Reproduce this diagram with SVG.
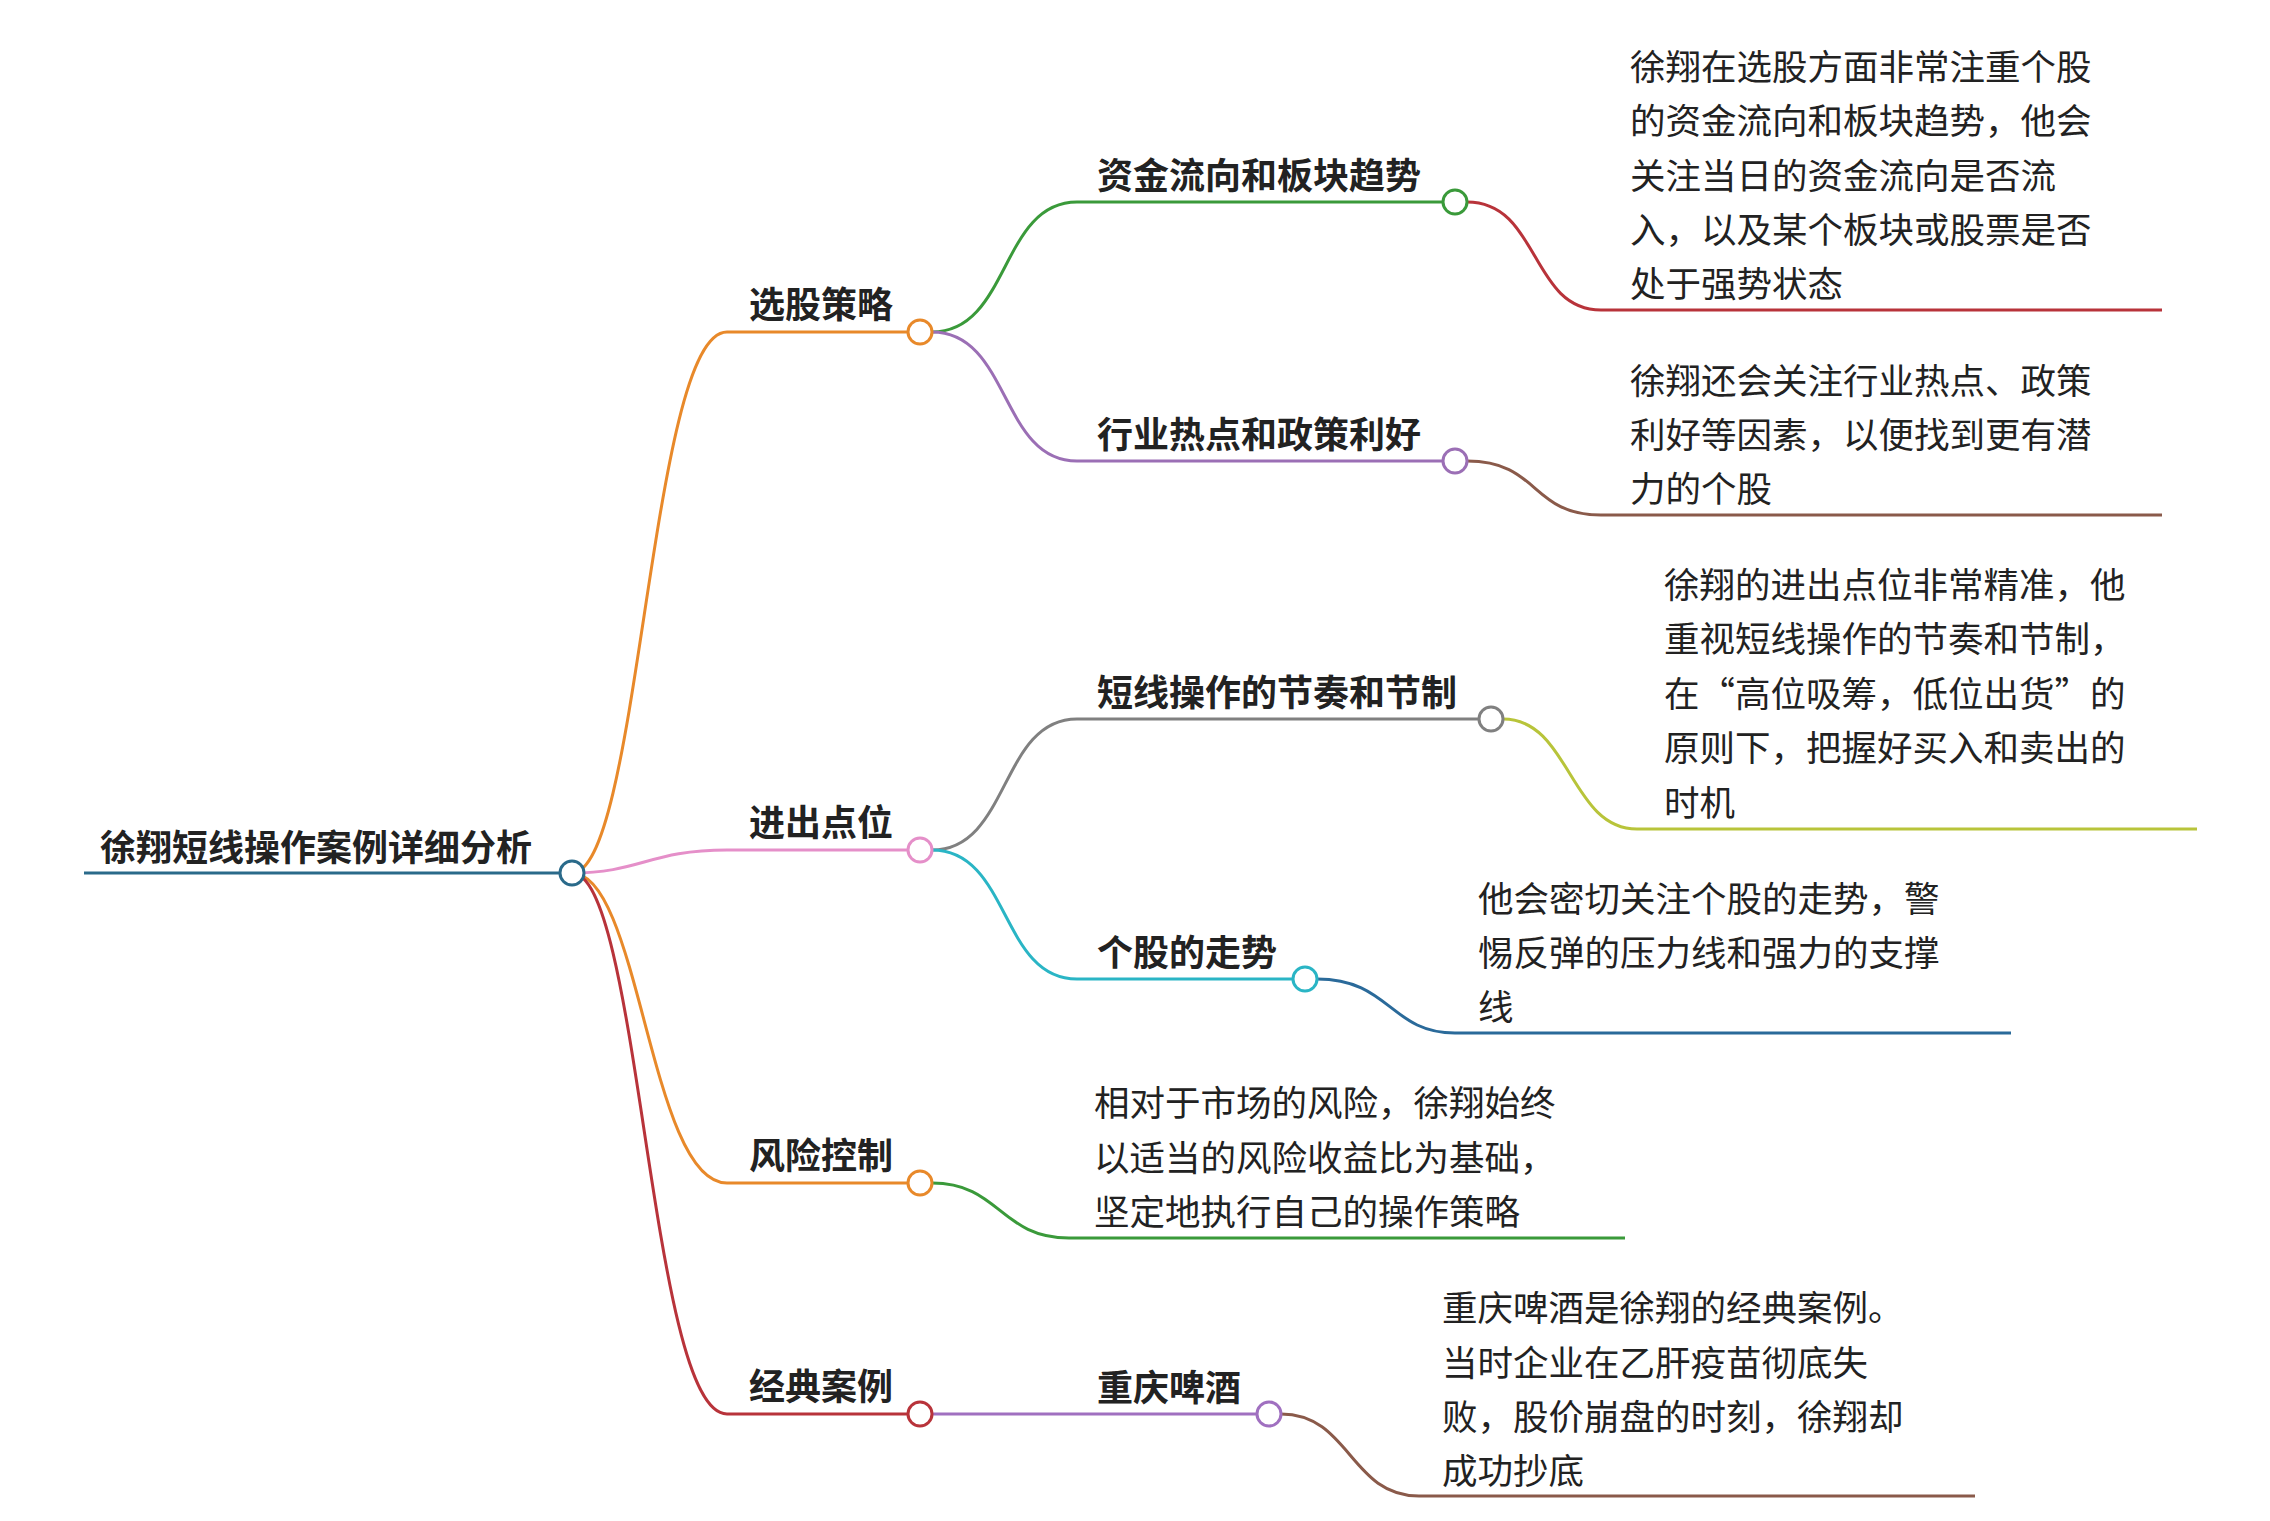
<svg xmlns="http://www.w3.org/2000/svg" width="2270" height="1521" viewBox="0 0 2270 1521">
<style>
text{font-family:"Noto Sans CJK SC","Liberation Sans",sans-serif;fill:#222}
.b{font-weight:bold;font-size:36px}
.r{font-size:35.5px}
path{fill:none;stroke-width:3}
circle{fill:#fff;stroke-width:3}
</style>
<rect width="2270" height="1521" fill="#fff"/>
<g id="connectors">
<path d="M84,873 H560" stroke="#2a6a8a" stroke-width="4"/>
<path d="M572,873 C640,873 650,332 727,332 H908" stroke="#e8892a"/>
<path d="M572,873 C640,873 650,850 727,850 H908" stroke="#e58fc9"/>
<path d="M572,873 C640,873 650,1183 727,1183 H908" stroke="#e8892a"/>
<path d="M572,873 C640,873 650,1414 727,1414 H908" stroke="#b8333a"/>
<path d="M932,332 C1010,332 1000,202 1077,202 H1443" stroke="#3a9a3a"/>
<path d="M932,332 C1010,332 1000,461 1077,461 H1443" stroke="#9b6fb5"/>
<path d="M932,850 C1010,850 1000,719 1077,719 H1479" stroke="#808080"/>
<path d="M932,850 C1010,850 1000,979 1077,979 H1293" stroke="#2ab5c5"/>
<path d="M932,1414 H1257" stroke="#a070c0"/>
<path d="M1467,202 C1540,202 1530,310 1601,310 H2162" stroke="#b8333a"/>
<path d="M1467,461 C1540,461 1530,515 1601,515 H2162" stroke="#8a5a4a"/>
<path d="M1503,719 C1570,719 1570,829 1637,829 H2197" stroke="#b8c43a"/>
<path d="M1317,979 C1390,979 1390,1033 1455,1033 H2011" stroke="#2a6a9a"/>
<path d="M932,1183 C1000,1183 1000,1238 1069,1238 H1625" stroke="#3a9a3a"/>
<path d="M1281,1414 C1350,1414 1350,1496 1419,1496 H1975" stroke="#8a5a4a"/>
</g>
<g id="root"><text class="b" x="100" y="861">徐翔短线操作案例详细分析</text><circle cx="572" cy="873" r="12" stroke="#2a6a8a"/></g>
<g id="n1"><text class="b" x="749" y="318">选股策略</text><circle cx="920" cy="332" r="12" stroke="#e8892a"/></g>
<g id="n2"><text class="b" x="749" y="836">进出点位</text><circle cx="920" cy="850" r="12" stroke="#e58fc9"/></g>
<g id="n3"><text class="b" x="749" y="1169">风险控制</text><circle cx="920" cy="1183" r="12" stroke="#e8892a"/></g>
<g id="n4"><text class="b" x="749" y="1400">经典案例</text><circle cx="920" cy="1414" r="12" stroke="#b8333a"/></g>
<g id="n11"><text class="b" x="1097" y="189">资金流向和板块趋势</text><circle cx="1455" cy="202" r="12" stroke="#3a9a3a"/></g>
<g id="n12"><text class="b" x="1097" y="448">行业热点和政策利好</text><circle cx="1455" cy="461" r="12" stroke="#9b6fb5"/></g>
<g id="n21"><text class="b" x="1097" y="706">短线操作的节奏和节制</text><circle cx="1491" cy="719" r="12" stroke="#808080"/></g>
<g id="n22"><text class="b" x="1097" y="966">个股的走势</text><circle cx="1305" cy="979" r="12" stroke="#2ab5c5"/></g>
<g id="n41"><text class="b" x="1097" y="1401">重庆啤酒</text><circle cx="1269" cy="1414" r="12" stroke="#a070c0"/></g>
<g id="leaf1" class="r"><text x="1630" y="80">徐翔在选股方面非常注重个股</text><text x="1630" y="134">的资金流向和板块趋势，他会</text><text x="1630" y="189">关注当日的资金流向是否流</text><text x="1630" y="243">入，以及某个板块或股票是否</text><text x="1630" y="297">处于强势状态</text></g>
<g id="leaf2" class="r"><text x="1630" y="394">徐翔还会关注行业热点、政策</text><text x="1630" y="448">利好等因素，以便找到更有潜</text><text x="1630" y="502">力的个股</text></g>
<g id="leaf3" class="r"><text x="1664" y="598">徐翔的进出点位非常精准，他</text><text x="1664" y="652">重视短线操作的节奏和节制，</text><text x="1664" y="707">在“高位吸筹，低位出货”的</text><text x="1664" y="761">原则下，把握好买入和卖出的</text><text x="1664" y="816">时机</text></g>
<g id="leaf4" class="r"><text x="1478" y="912">他会密切关注个股的走势，警</text><text x="1478" y="966">惕反弹的压力线和强力的支撑</text><text x="1478" y="1020">线</text></g>
<g id="leaf5" class="r"><text x="1094" y="1116">相对于市场的风险，徐翔始终</text><text x="1094" y="1171">以适当的风险收益比为基础，</text><text x="1094" y="1225">坚定地执行自己的操作策略</text></g>
<g id="leaf6" class="r"><text x="1442" y="1321">重庆啤酒是徐翔的经典案例。</text><text x="1442" y="1376">当时企业在乙肝疫苗彻底失</text><text x="1442" y="1430">败，股价崩盘的时刻，徐翔却</text><text x="1442" y="1484">成功抄底</text></g>
</svg>
